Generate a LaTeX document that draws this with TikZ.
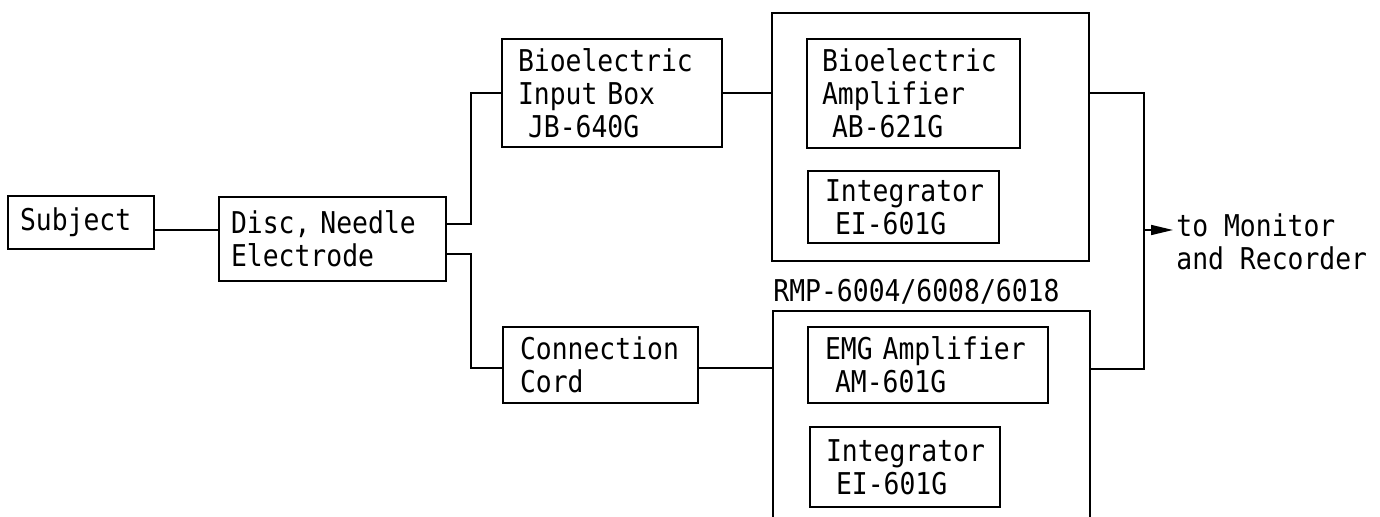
\documentclass[tikz,border=0pt]{standalone}
\usepackage{fontspec}
\setmonofont[FakeStretch=0.88]{DejaVu Sans Mono}
\usetikzlibrary{arrows.meta}
\newcommand\typefont{\ttfamily\fontsize{15}{16.5}\selectfont
  \fontdimen2\font=\fontcharwd\font`M\fontdimen3\font=0pt\fontdimen4\font=0pt}
\begin{document}
\begin{tikzpicture}[
    x=0.5pt, y=-0.5pt,
    every node/.style={font=\typefont},
    unit/.style={draw, line width=1pt, align=left, inner ysep=0pt},
    rack/.style={draw, line width=1pt, inner sep=0pt},
    wire/.style={line width=0.8pt}
]
\clip (0,0) rectangle (1380,517);
\node[unit, minimum width=73pt, minimum height=26.5pt, inner xsep=6pt, text width=61pt] (subject) at (81,222.5) {Subject};
\node[unit, minimum width=113.5pt, minimum height=42pt, inner xsep=6pt, text width=101.5pt] (disc) at (332.5,239) {Disc, Needle\\Electrode};
\node[unit, minimum width=110pt, minimum height=54pt, inner xsep=8pt, text width=94pt] (inbox) at (612,93) {Bioelectric\\Input Box\\~JB-640G};
\node[unit, minimum width=97.5pt, minimum height=38pt, inner xsep=8.5pt, text width=80.5pt] (cord) at (600.5,365) {Connection\\Cord};
\node[rack, minimum width=158.5pt, minimum height=124pt] (rmptop) at (930.5,137) {};
\node[unit, minimum width=106.5pt, minimum height=54.5pt, inner xsep=7.5pt, text width=91.5pt] (bioamp) at (913.5,93.5) {Bioelectric\\Amplifier\\~AB-621G};
\node[unit, minimum width=95.5pt, minimum height=36pt, inner xsep=8.5pt, text width=78.5pt] (intega) at (903.5,207) {Integrator\\~EI-601G};
\node[anchor=base west, inner sep=0pt] (rmp) at (773,302) {RMP-6004/6008/6018};
\node[rack, minimum width=158.5pt, minimum height=124.5pt] (rmpbot) at (931.5,435.5) {};
\node[unit, minimum width=120pt, minimum height=38pt, inner xsep=8.5pt, text width=103pt] (emgamp) at (928,365) {EMG Amplifier\\~AM-601G};
\node[unit, minimum width=95pt, minimum height=40pt, inner xsep=8pt, text width=79pt] (integb) at (905,467) {Integrator\\~EI-601G};
\node[anchor=north west, inner sep=0pt, align=left] (out) at (1176,213) {to Monitor\\and Recorder};
\coordinate (bus) at (1144,230);

\draw[wire] (subject.east |- 0,230) -- (disc.west |- 0,230);
\draw[wire] (disc.east |- 0,224) -| (471,93) -- (inbox.west);
\draw[wire] (disc.east |- 0,254) -| (471,368) -- (cord.west |- 0,368);
\draw[wire] (inbox.east) -- (rmptop.west |- inbox.east);
\draw[wire] (cord.east |- 0,368) -- (rmpbot.west |- 0,368);
\draw[wire] (rmptop.east |- 0,93) -| (bus |- 0,369) -- (rmpbot.east |- 0,369);
\draw[wire, -{Triangle[length=11pt,width=5pt]}, shorten >=1.5pt] (bus) -- (out.west |- bus);
\end{tikzpicture}
\end{document}
